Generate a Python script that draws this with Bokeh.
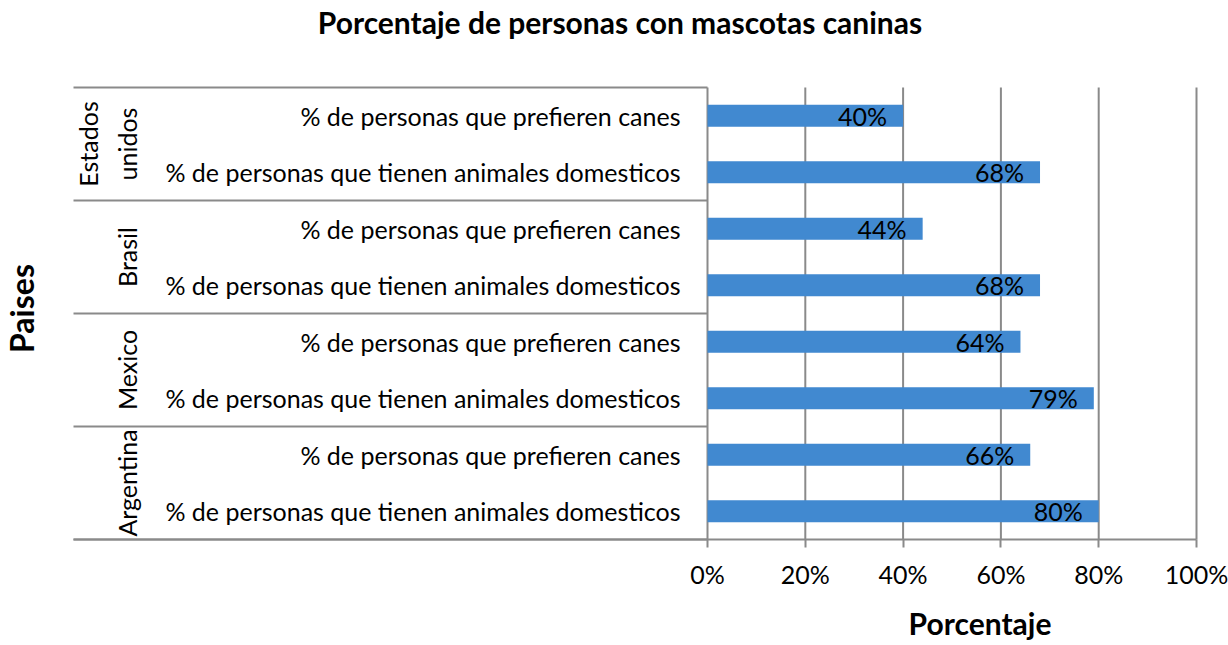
import math
from bokeh.plotting import figure
from bokeh.models import (Range1d, FixedTicker, NumeralTickFormatter, ColumnDataSource, LinearAxis)
from bokeh.embed import file_html
from bokeh.resources import INLINE
from bokeh.core.properties import value

# ---------------- data ----------------
countries = ["Argentina", "Mexico", "Brasil", "Estados\nunidos"]          # bottom -> top
series_names = ["% de personas que tienen animales domesticos",
                "% de personas que prefieren canes"]
tienen = [0.80, 0.79, 0.68, 0.68]
prefieren = [0.66, 0.64, 0.44, 0.40]
x_ticks = [0, 0.2, 0.4, 0.6, 0.8, 1.0]
title_text = "Porcentaje de personas con mascotas caninas"
x_title = "Porcentaje"
y_title = "Paises"

# ---------------- layout (pixel geometry of the canvas) ----------------
W, H = 1228, 645
PX = 489.0            # px per 100 %
X0 = 707.0            # px of 0 %
Y0 = 539.0            # px of bottom of category area
ROW = 56.5            # px per category row


def xd(px):
    return (px - X0) / PX


def yd(py):
    return (Y0 - py) / ROW


FONT = "Lato"
FS = "25px"
GRAY = "#8a8a8a"
n_rows = 2 * len(countries)

ys, vals, names = [], [], []
for i, c in enumerate(countries):
    for j, s in enumerate(series_names):
        ys.append(2 * i + j + 0.5)
        names.append(s)
        vals.append(tienen[i] if j == 0 else prefieren[i])
labels = ["%d%%" % round(v * 100) for v in vals]
src = ColumnDataSource(dict(y=ys, v=vals, name=names, lab=labels))

p = figure(width=W, height=H, x_range=Range1d(xd(0), xd(W)), y_range=Range1d(yd(H), yd(0)),
           output_backend="svg", toolbar_location=None,
           x_axis_location=None, y_axis_location=None,
           min_border_left=0, min_border_right=0, min_border_top=0, min_border_bottom=0)
p.outline_line_color = None
p.background_fill_color = "white"
for r in p.center:
    r.visible = False

# x axis drawn at the bottom of the category area
xax = LinearAxis(ticker=FixedTicker(ticks=x_ticks), formatter=NumeralTickFormatter(format="0%"),
                 fixed_location=0, bounds=(xd(73), 1.0))
xax.axis_line_color = GRAY
xax.axis_line_width = 2
xax.major_tick_line_color = GRAY
xax.major_tick_line_width = 2
xax.major_tick_out = 8
xax.major_tick_in = 0
xax.minor_tick_line_color = None
xax.major_label_standoff = 11
xax.major_label_text_font = FONT
xax.major_label_text_font_size = FS
xax.major_label_text_color = "black"
p.add_layout(xax, "below")

# vertical grid lines (only over the plot area)
p.segment(x0=x_ticks, x1=x_ticks, y0=[0] * len(x_ticks), y1=[n_rows] * len(x_ticks),
          line_color=GRAY, line_width=2)

# group separators
nb = len(countries) + 1
p.segment(x0=[xd(73)] * nb, x1=[0] * nb, y0=[2 * k for k in range(nb)], y1=[2 * k for k in range(nb)],
          line_color=GRAY, line_width=2)

# bars
p.hbar(y="y", left=0, right="v", height=0.39, source=src, fill_color="#4189d0", line_color=None)

# bar labels
p.text(x="v", y="y", text="lab", source=src, text_align="right", text_baseline="middle",
       x_offset=-16, y_offset=0, text_font=value(FONT), text_font_size=FS, text_color="black")

# category labels
p.text(x=xd(680), y="y", text="name", source=src, text_align="right", text_baseline="middle",
       text_font=value(FONT), text_font_size=FS, text_color="black")

# group labels
p.text(x=[xd(141)] * len(countries), y=[2 * i + 1 for i in range(len(countries))],
       text=countries, angle=math.pi / 2, text_align="center", text_baseline="bottom",
       text_font=value(FONT), text_font_size=FS, text_color="black", text_line_height=1.3)

# titles
p.text(x=[xd(619.5)], y=[yd(21)], text=[title_text], text_align="center", text_baseline="alphabetic",
       text_font=value(FONT), text_font_size="30px", text_font_style="bold", text_color="black")
p.text(x=[xd(979.5)], y=[yd(622)], text=[x_title], text_align="center", text_baseline="alphabetic",
       text_font=value(FONT), text_font_size="30px", text_font_style="bold", text_color="black")
p.text(x=[xd(21)], y=[yd(308)], text=[y_title], angle=math.pi / 2, text_align="center",
       text_baseline="middle", text_font=value(FONT), text_font_size="32px", text_font_style="bold",
       text_color="black")

open("out.html", "w").write(file_html(p, INLINE))
